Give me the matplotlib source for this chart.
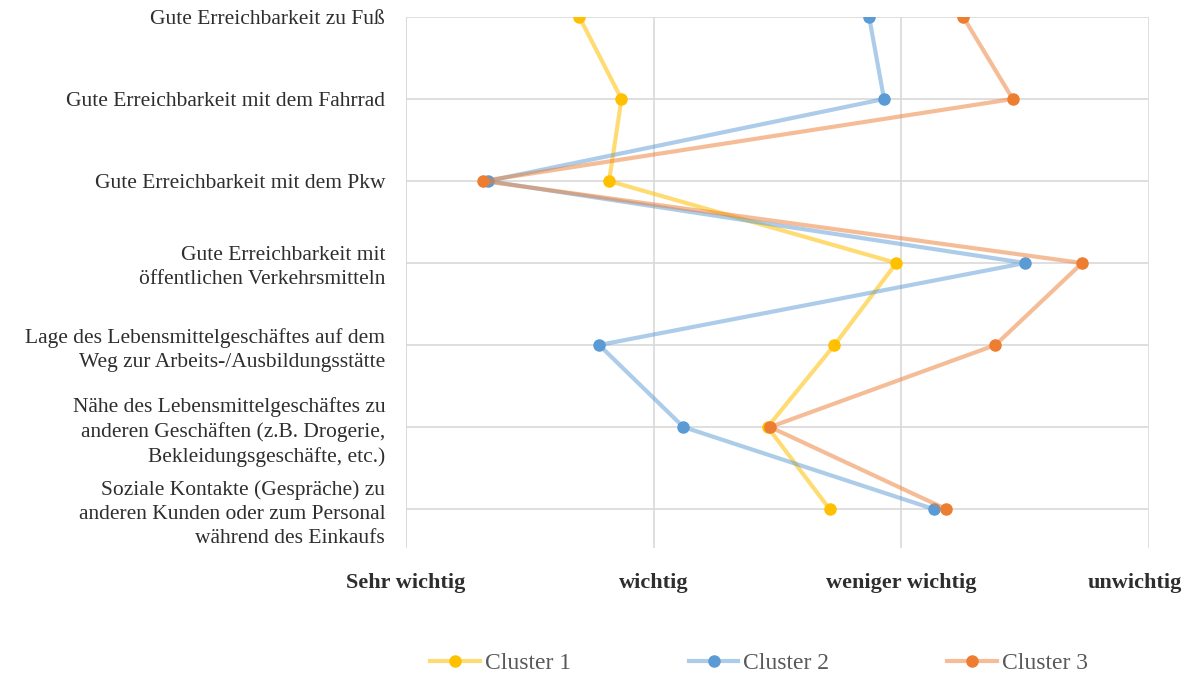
import matplotlib
matplotlib.use("Agg")
import matplotlib.pyplot as plt
import matplotlib.transforms as mtransforms

categories = [
    "Gute Erreichbarkeit zu Fuß",
    "Gute Erreichbarkeit mit dem Fahrrad",
    "Gute Erreichbarkeit mit dem Pkw",
    "Gute Erreichbarkeit mit\nöffentlichen Verkehrsmitteln",
    "Lage des Lebensmittelgeschäftes auf dem\nWeg zur Arbeits-/Ausbildungsstätte",
    "Nähe des Lebensmittelgeschäftes zu\nanderen Geschäften (z.B. Drogerie,\nBekleidungsgeschäfte, etc.)",
    "Soziale Kontakte (Gespräche) zu\nanderen Kunden oder zum Personal\nwährend des Einkaufs",
]
cluster1 = [1.70, 1.87, 1.82, 2.98, 2.73, 2.46, 2.71]
cluster2 = [2.87, 2.93, 1.33, 3.50, 1.78, 2.12, 3.13]
cluster3 = [3.25, 3.45, 1.31, 3.73, 3.38, 2.47, 3.18]
series_names = ["Cluster 1", "Cluster 2", "Cluster 3"]
xtick_values = [1, 2, 3, 4]
xtick_labels = ["Sehr wichtig", "wichtig", "weniger wichtig", "unwichtig"]

marker_colors = ["#FFC000", "#5B9BD5", "#ED7D31"]
line_colors = [(1.0, 0.753, 0.0, 0.55), (0.357, 0.608, 0.835, 0.5), (0.929, 0.49, 0.192, 0.5)]

plt.rcParams['font.family'] = ['Liberation Serif', 'DejaVu Serif']

fig = plt.figure(figsize=(11.88, 6.75), dpi=100)
ax = fig.add_axes([406/1188, 1-548/675, (1149-406)/1188, (548-17)/675])

ypos = list(range(len(categories)))
for vals, name, mc, lc in zip([cluster1, cluster2, cluster3], series_names, marker_colors, line_colors):
    ax.plot(vals, ypos, color=lc, linewidth=3, marker='o', markersize=8,
            markerfacecolor=mc, markeredgecolor=mc, label=name, solid_joinstyle='round')

ax.set_xlim(1, 4)
ax.set_ylim((548-17)/82, 0)
ax.set_yticks(ypos)
ax.set_yticklabels(categories, fontsize=15.5, color="#2E2E2E", ha='right', multialignment='right',
                   linespacing=1.35)
ax.set_xticks(xtick_values)
ax.set_xticklabels(xtick_labels, fontsize=16, fontweight='bold', color="#2E2E2E")
ax.tick_params(axis='both', length=0)
ax.tick_params(axis='y', pad=15)
ax.tick_params(axis='x', pad=18)
lbls = ax.get_xticklabels()
off = mtransforms.ScaledTranslation(-14/100, 0, fig.dpi_scale_trans)
lbls[-1].set_transform(lbls[-1].get_transform() + off)

ax.grid(True, color="#D9D9D9", linewidth=1.2)
ax.set_axisbelow(True)
for s in ax.spines.values():
    s.set_visible(False)
ax.axvline(1, color="#D9D9D9", linewidth=1.2, zorder=0)

leg = fig.legend(loc='center', bbox_to_anchor=(759/1188, 1-663/675), ncol=3, frameon=False,
                 fontsize=17, handlelength=2.1, handletextpad=0.2, columnspacing=5.0)
for t in leg.get_texts():
    t.set_color("#595959")

fig.savefig("out.png", dpi=100)
